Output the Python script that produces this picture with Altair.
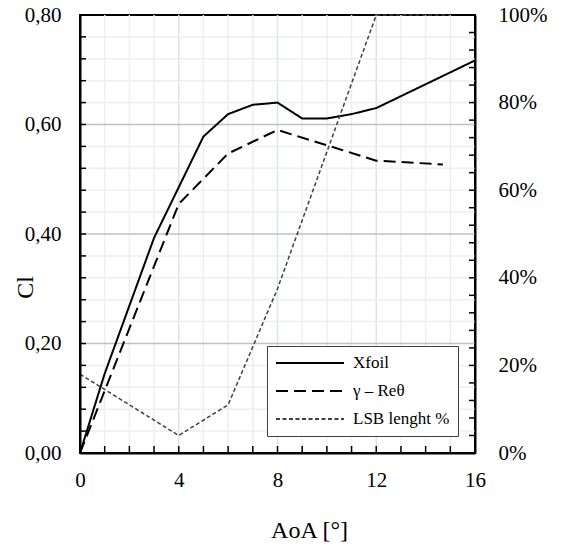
import altair as alt
import pandas as pd

# ---- data ----
xfoil_aoa = [0, 1, 3, 5, 6, 7, 8, 9, 10, 11, 12, 16]
xfoil_cl = [0.0, 0.145, 0.393, 0.578, 0.619, 0.636, 0.640, 0.611, 0.611, 0.619, 0.630, 0.717]

gamma_aoa = [0, 4, 6, 8, 12, 14.7]
gamma_cl = [0.0, 0.455, 0.547, 0.590, 0.534, 0.527]

lsb_aoa = [0, 4, 6, 8, 12, 15]
lsb_pct = [18, 4, 11, 37.5, 100, 100]

series_names = ["Xfoil", "γ – Reθ", "LSB lenght %"]

# ---- tick / grid positions ----
x_ticks = [1, 2, 3, 4, 5, 6, 7, 8, 9, 10, 11, 12, 13, 14, 15]
x_labels = [0, 4, 8, 12, 16]
x_grid_minor = [1, 2, 3, 5, 6, 7, 9, 10, 11, 13, 14, 15]
x_grid_major = [4, 8, 12]
yl_ticks = [0.0, 0.04, 0.08, 0.12, 0.16, 0.2, 0.24, 0.28, 0.32, 0.36, 0.4,
            0.44, 0.48, 0.52, 0.56, 0.6, 0.64, 0.68, 0.72, 0.76, 0.8]
yl_labels = [0.0, 0.2, 0.4, 0.6, 0.8]
yl_grid_minor = [0.04, 0.08, 0.12, 0.16, 0.24, 0.28, 0.32, 0.36,
                 0.44, 0.48, 0.52, 0.56, 0.64, 0.68, 0.72, 0.76]
yl_grid_major = [0.2, 0.4, 0.6]
yr_ticks = [0, 4, 8, 12, 16, 20, 24, 28, 32, 36, 40, 44, 48, 52, 56, 60,
            64, 68, 72, 76, 80, 84, 88, 92, 96, 100]
yr_labels = [0, 20, 40, 60, 80, 100]

W, H = 395, 438
FONT = "Liberation Serif"

cl_df = pd.concat([
    pd.DataFrame({"aoa": xfoil_aoa, "cl": xfoil_cl, "series": series_names[0]}),
    pd.DataFrame({"aoa": gamma_aoa, "cl": gamma_cl, "series": series_names[1]}),
])
lsb_df = pd.DataFrame({"aoa": lsb_aoa, "pct": lsb_pct, "series": series_names[2]})

xscale = alt.Scale(domain=[0, 16], nice=False, zero=False)
ylscale = alt.Scale(domain=[0, 0.8], nice=False)
yrscale = alt.Scale(domain=[0, 100], nice=False)

x_axis = alt.Axis(values=x_labels, orient="bottom", tickSize=0, labelPadding=16,
                  labelFlush=False, ticks=False,
                  labelFont=FONT, labelFontSize=21, labelColor="black",
                  domainColor="black", domainWidth=2, grid=False, zindex=1,
                  title="AoA [°]", titleFont=FONT, titleFontSize=24, titleFontWeight="normal",
                  titleColor="black", titleX=229, titleY=77, titleAlign="center",
                  titleBaseline="middle")
yl_axis = alt.Axis(values=yl_labels, orient="left", tickSize=0, labelPadding=19,
                   labelExpr="replace(format(datum.value, '.2f'), '.', ',')",
                   labelFont=FONT, labelFontSize=21, labelColor="black",
                   domainColor="black", domainWidth=2, grid=False, zindex=1,
                   title="Cl", titleFont=FONT, titleFontSize=24, titleFontWeight="normal",
                   titleColor="black", titleX=-55, titleY=272, titleAngle=270,
                   titleAlign="center", titleBaseline="middle")
yr_axis = alt.Axis(values=yr_labels, orient="right", tickSize=0, labelPadding=23,
                   labelExpr="datum.value + '%'",
                   labelFont=FONT, labelFontSize=21, labelColor="black",
                   domainColor="black", domainWidth=2, grid=False, zindex=1, title="")

legend = alt.Legend(title=None, labelFont=FONT, labelFontSize=17, labelColor="black")
color = alt.Color("series:N", legend=legend,
                  scale=alt.Scale(domain=series_names, range=["black", "black", "#404040"]),
                  sort=series_names)
dash = alt.StrokeDash("series:N", legend=legend,
                      scale=alt.Scale(domain=series_names, range=[[1, 0], [12, 6], [4, 2.5]]),
                      sort=series_names)

X_enc = lambda f: alt.X(f, scale=xscale, axis=x_axis)

# grid rules
vgrid_minor = alt.Chart(pd.DataFrame({"v": x_grid_minor})).mark_rule(
    color="#eeeeee", strokeWidth=1.5).encode(x=X_enc("v:Q"))
vgrid_major = alt.Chart(pd.DataFrame({"v": x_grid_major})).mark_rule(
    color="#d9e2f3", strokeWidth=1.5).encode(x=X_enc("v:Q"))
hgrid_minor = alt.Chart(pd.DataFrame({"v": yl_grid_minor})).mark_rule(
    color="#eeeeee", strokeWidth=1.5).encode(y=alt.Y("v:Q", scale=ylscale, axis=None))
hgrid_major = alt.Chart(pd.DataFrame({"v": yl_grid_major})).mark_rule(
    color="#c0c0c0", strokeWidth=1.5).encode(y=alt.Y("v:Q", scale=ylscale, axis=None))

# inward ticks
xticks = alt.Chart(pd.DataFrame({"t": x_ticks})).mark_rule(
    color="black", strokeWidth=1.5).encode(
    x=X_enc("t:Q"), y=alt.value(H - 7), y2=alt.value(H))
lticks = alt.Chart(pd.DataFrame({"v": yl_ticks})).mark_rule(
    color="black", strokeWidth=1.5).encode(
    y=alt.Y("v:Q", scale=ylscale, axis=None), x=alt.value(0), x2=alt.value(6))
rticks = alt.Chart(pd.DataFrame({"v": yr_ticks})).mark_rule(
    color="black", strokeWidth=1.5).encode(
    y=alt.Y("v:Q", scale=yrscale, axis=None), x=alt.value(W), x2=alt.value(W - 6))

cl_lines = alt.Chart(cl_df).mark_line(strokeWidth=2).encode(
    x=X_enc("aoa:Q"),
    y=alt.Y("cl:Q", scale=ylscale, axis=yl_axis),
    color=color, strokeDash=dash,
    detail="series:N",
)
lsb_line = alt.Chart(lsb_df).mark_line(strokeWidth=1.5).encode(
    x=X_enc("aoa:Q"),
    y=alt.Y("pct:Q", scale=yrscale, axis=yr_axis),
    color=color, strokeDash=dash,
)

chart = alt.layer(vgrid_minor, vgrid_major, hgrid_minor, hgrid_major,
                  xticks, lticks, rticks, cl_lines, lsb_line).resolve_scale(
    y="independent").properties(
    width=W, height=H,
    padding={"left": 80, "top": 15, "right": 88, "bottom": 94},
    autosize=alt.AutoSizeParams(type="none"),
    background="white",
).configure(font=FONT).configure_view(stroke="black", strokeWidth=2).configure_legend(
    orient="none", legendX=187, legendY=331,
    strokeColor="#404040", fillColor="white", padding=8,
    symbolType="stroke", symbolSize=4624, symbolStrokeWidth=1.8,
    clipHeight=18, rowPadding=10,
    labelFont=FONT, labelFontSize=17, labelColor="black", labelOffset=8,
)

chart.save("out.html", embed_options={"renderer": "svg", "actions": False})
